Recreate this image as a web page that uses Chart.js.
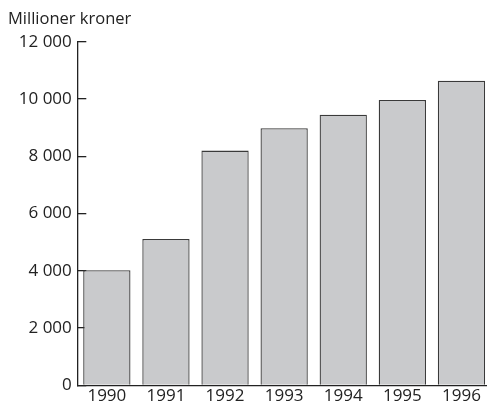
<!DOCTYPE html>
<html>
<head>
<meta charset="utf-8">
<script src="https://cdn.jsdelivr.net/npm/chart.js@4"></script>
<style>
html,body{margin:0;padding:0;background:#fff;overflow:hidden;}
#wrap{width:491px;height:410px;position:relative;}
</style>
</head>
<body>
<div id="wrap"><canvas id="c"></canvas></div>
<script>
const years = ['1990','1991','1992','1993','1994','1995','1996'];
const values = [4020, 5110, 8200, 8980, 9450, 9970, 10640];
const yTicks = [0, 2000, 4000, 6000, 8000, 10000, 12000];
const unitLabel = 'Millioner kroner';

const FONT = '"Open Sans", sans-serif';

new Chart(document.getElementById('c'), {
  type: 'bar',
  data: {
    labels: years,
    datasets: [{
      data: values,
      backgroundColor: '#c9cacc',
      borderColor: '#3a3a3a',
      borderWidth: 1.3,
      barPercentage: 0.8,
      categoryPercentage: 1.0
    }]
  },
  options: {
    responsive: true,
    maintainAspectRatio: false,
    animation: false,
    layout: { padding: { left: 8, right: 0, top: 0, bottom: 0 } },
    plugins: {
      legend: { display: false },
      tooltip: { enabled: false },
      title: {
        display: true,
        text: unitLabel,
        align: 'start',
        color: '#222',
        font: { family: FONT, size: 16.5, weight: 'normal', lineHeight: 1.2 },
        padding: { top: 9, bottom: 13 }
      }
    },
    scales: {
      x: {
        grid: { display: false, drawTicks: false },
        border: { display: true, color: '#222', width: 1.3 },
        ticks: { color: '#222', font: { family: FONT, size: 17 }, padding: 0.5, maxRotation: 0 },
        afterFit: (s) => { s.height = 20; }
      },
      y: {
        min: 0,
        max: 12000,
        afterBuildTicks: (s) => { s.ticks = yTicks.map(v => ({ value: v })); },
        grid: { display: true, drawOnChartArea: false, drawTicks: true, tickLength: -9, color: '#222', lineWidth: 1.3 },
        border: { display: true, color: '#222', width: 1.3 },
        ticks: {
          color: '#222',
          font: { family: FONT, size: 17 },
          padding: 14.5,
          callback: (v) => String(v).replace(/\B(?=(\d{3})+(?!\d))/g, ' ')
        },
        afterFit: (s) => { s.width = 69.3; }
      }
    }
  }
});
</script>
</body>
</html>
